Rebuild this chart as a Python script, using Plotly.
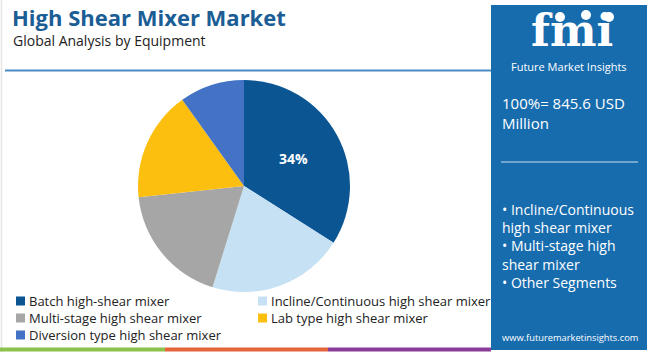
import plotly.graph_objects as go

labels = ["Batch high-shear mixer", "Incline/Continuous high shear mixer",
          "Multi-stage high shear mixer", "Lab type high shear mixer",
          "Diversion type high shear mixer"]
values = [34.0, 20.8, 18.5, 16.8, 9.9]
colors = ["#0b5592", "#c6e1f3", "#a6a6a6", "#fdbf0f", "#4472c4"]
shown_text = ["%{percent:.0%}", "", "", "", ""]

title = "High Shear Mixer Market"
subtitle = "Global Analysis by Equipment"
total_text = "100%= 845.6 USD<br>Million"
bullets = ["• Incline/Continuous", "high shear mixer", "• Multi-stage high",
           "shear mixer", "• Other Segments"]
url = "www.futuremarketinsights.com"

W, H = 650, 352
FONT = "Open Sans"
PANEL = "#176cae"

def px(x):
    return x / W

def py(y):
    return (H - y) / H

fig = go.Figure()
fig.add_trace(go.Pie(
    labels=labels, values=values, sort=False, direction="clockwise", rotation=0,
    marker=dict(colors=colors, line=dict(width=0)),
    texttemplate=shown_text, textposition="inside",
    insidetextfont=dict(color="white", size=14, family=FONT, weight="bold"),
    hoverinfo="label+percent", showlegend=False,
    domain=dict(x=[px(138), px(350)], y=[py(292), py(80)]),
))

shapes = []
# outer thin border on left
shapes.append(dict(type="line", xref="paper", yref="paper", x0=px(1.5), x1=px(1.5),
                   y0=0, y1=1, line=dict(color="#e6e6e6", width=1.5)))
# header rule
shapes.append(dict(type="line", xref="paper", yref="paper", x0=px(5), x1=px(491),
                   y0=py(70.5), y1=py(70.5), line=dict(color="#4a8bc6", width=2)))
# bottom colored bar
for x0, x1, c in [(0, 165, "#8cc14b"), (165, 328, "#e5643a"), (328, 491, "#8b3b98")]:
    shapes.append(dict(type="rect", xref="paper", yref="paper", x0=px(x0), x1=px(x1),
                       y0=py(351.5), y1=py(347.5), fillcolor=c, line=dict(width=0)))
# right panel
shapes.append(dict(type="rect", xref="paper", yref="paper", x0=px(491), x1=px(647),
                   y0=py(350), y1=py(5), fillcolor=PANEL, line=dict(width=0), layer="below"))
# separator inside panel
shapes.append(dict(type="line", xref="paper", yref="paper", x0=px(501), x1=px(638),
                   y0=py(162), y1=py(162), line=dict(color="rgba(255,255,255,0.8)", width=1)))
# logo globe icons
for gx, gy in [(560, 17), (586, 15), (609, 17)]:
    shapes.append(dict(type="circle", xref="paper", yref="paper", x0=px(gx - 5), x1=px(gx + 5),
                       y0=py(gy + 5), y1=py(gy - 5), fillcolor="white", line=dict(width=0),
                       layer="above"))

annotations = []
def ann(text, x, y, size, color, xanchor="left", yanchor="middle", bold=False, family=FONT, **kw):
    annotations.append(dict(text=text, x=px(x), y=py(y), xref="paper", yref="paper",
                            xanchor=xanchor, yanchor=yanchor, showarrow=False,
                            font=dict(size=size, color=color, family=family,
                                      weight="bold" if bold else "normal"), **kw))

# legend (two columns, row-wise order)
leg_cols = [16, 258]
leg_rows = [301, 318, 335]
for i, (lab, col) in enumerate(zip(labels, colors)):
    cx = leg_cols[i % 2]
    cy = leg_rows[i // 2]
    shapes.append(dict(type="rect", xref="paper", yref="paper", x0=px(cx), x1=px(cx + 9),
                       y0=py(cy + 4.5), y1=py(cy - 4.5), fillcolor=col, line=dict(width=0)))
    ann(lab, cx + 11, cy, 13, "#222222")

ann(title, 10, 17, 22, "#1b5d95", bold=True)
ann(subtitle, 11, 41, 14, "#222222")
# logo
ann("fmi", 572, 58, 44, "white", xanchor="center", yanchor="bottom", bold=True,
    family="DejaVu Serif")
ann("Future Market Insights", 569, 66, 11, "white", xanchor="center")
ann(total_text, 500, 113, 15, "white", align="left")
ann("<br>".join(bullets), 500, 246, 14, "white", align="left")
ann(url, 570, 337, 9.3, "white", xanchor="center")

fig.update_layout(
    width=W, height=H, margin=dict(l=0, r=0, t=0, b=0),
    paper_bgcolor="white", plot_bgcolor="white",
    shapes=shapes, annotations=annotations,
    showlegend=False,
)

fig.write_html("out.html")
